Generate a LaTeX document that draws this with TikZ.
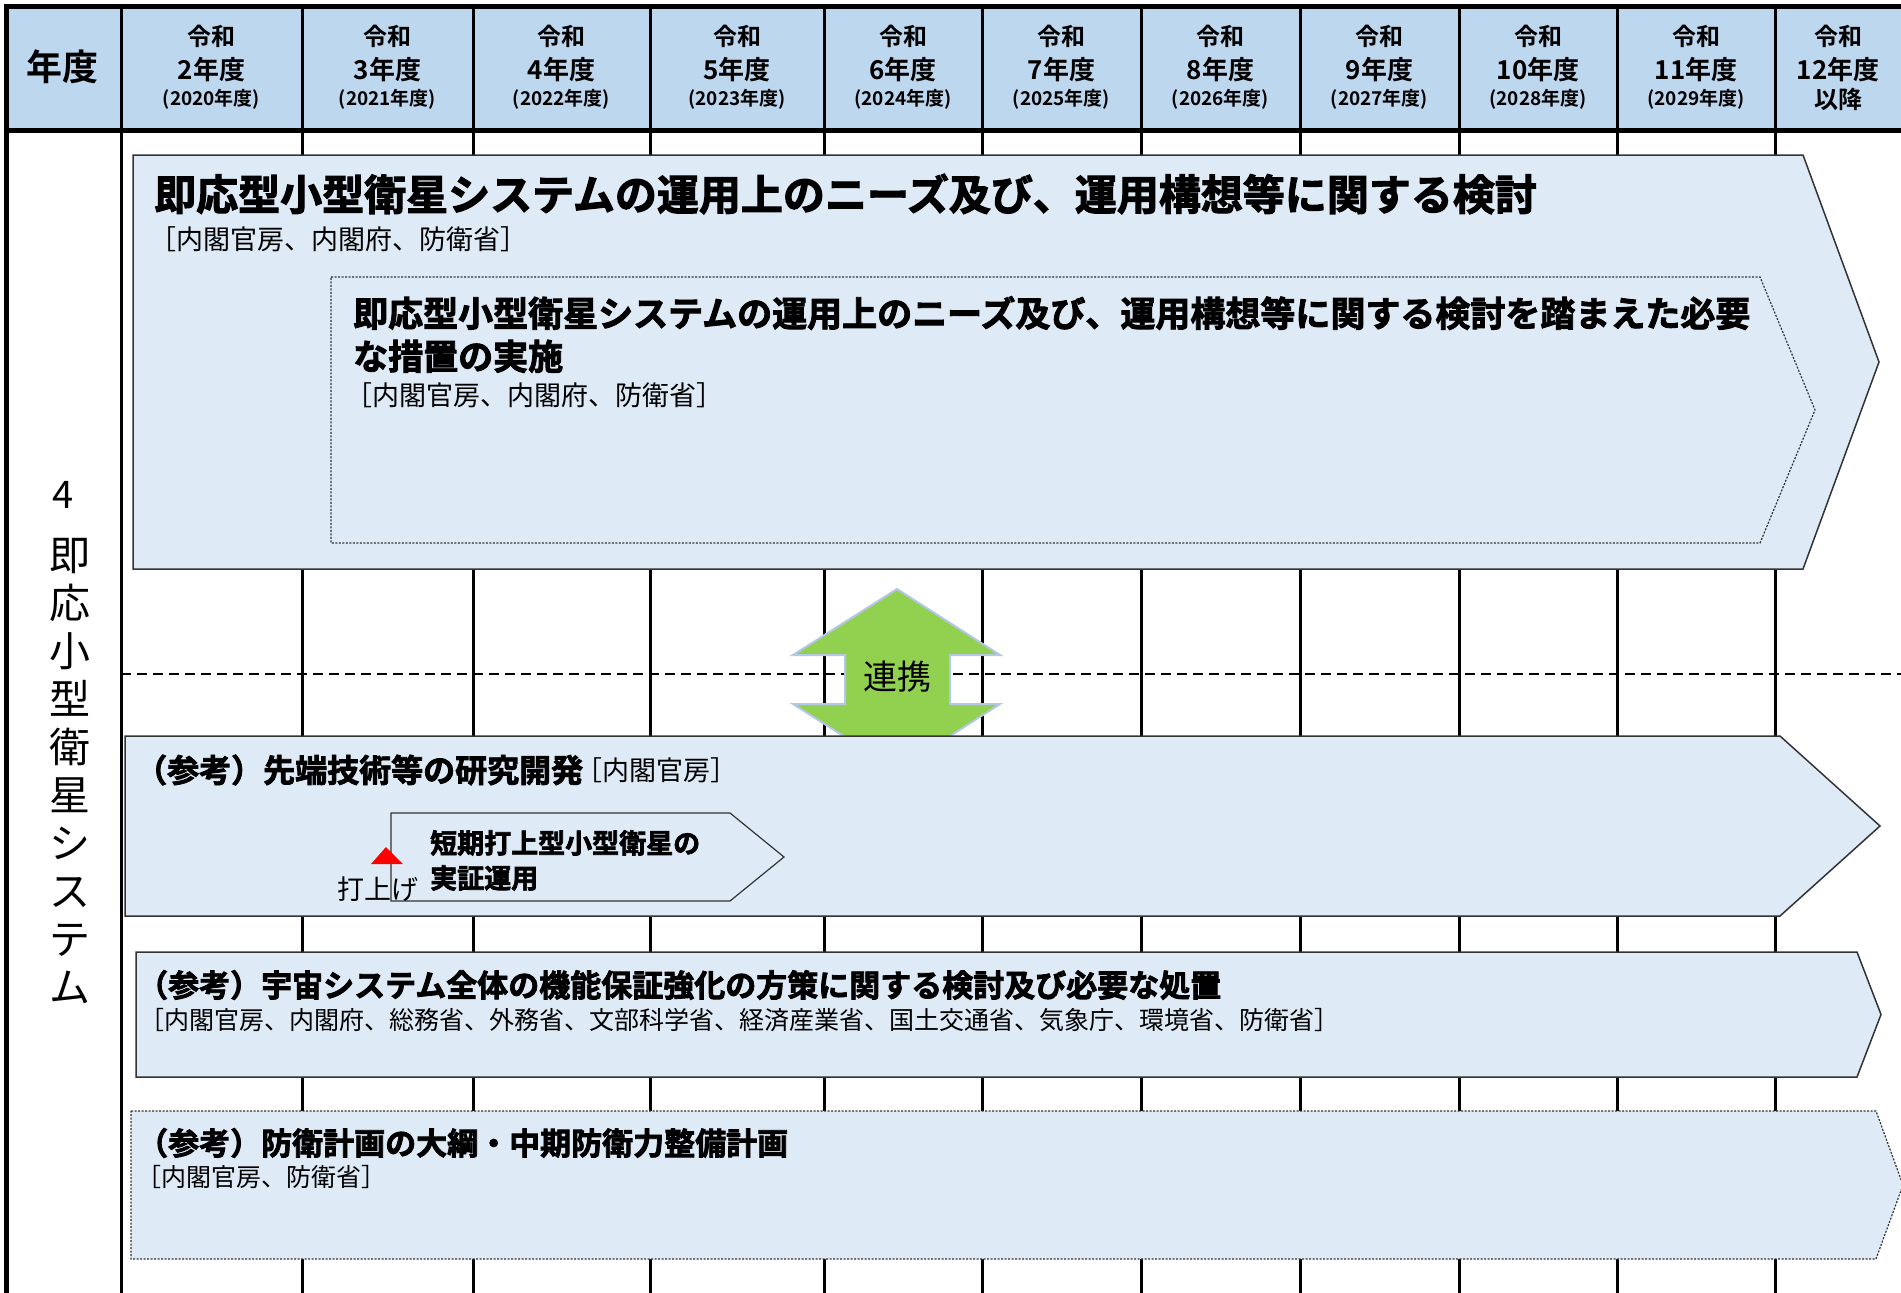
\documentclass[tikz,border=0pt]{standalone}
\usepackage{fontspec}
\setmainfont{Noto Sans CJK JP}
\newfontfamily\hv{Noto Sans CJK JP Bold}[FakeBold=2.5]
\newfontfamily\bd{Noto Sans CJK JP Bold}
\newcommand\fs[2]{\fontsize{#1}{#2}\selectfont}
\definecolor{hdrblue}{HTML}{BDD7EE}
\definecolor{boxblue}{HTML}{DEEAF6}
\definecolor{grn}{HTML}{92D050}
\definecolor{grnedge}{HTML}{B4C7E7}
\tikzset{
  frame/.style={line width=5pt, black},
  colline/.style={line width=3pt, black},
  dashline/.style={line width=2.5pt, black, dash pattern=on 10pt off 6pt},
  barbox/.style={fill=boxblue, draw=black!80, line width=1.5pt, line join=miter},
  dotbox/.style={fill=boxblue, draw=black!80, line width=1.2pt, dash pattern=on 2pt off 1.5pt},
  txt/.style={inner sep=0pt, anchor=west, text=black},
  hd/.style={inner sep=0pt, anchor=center, text=black},
}
\begin{document}
\begin{tikzpicture}[x=1pt,y=-1pt]
\useasboundingbox (0,0) rectangle (1901,1293);
% header background
\fill[hdrblue] (6,6) rectangle (1901,130);
% column lines
\foreach \x in {121,302,473,650,824,982,1141,1300,1459,1617,1775}
  \draw[colline] (\x,6) -- (\x,1293);
% frame
\draw[frame] (6,130) -- (1901,130);
\draw[frame] (3.5,6) -- (1901,6);
\draw[frame] (6,3.5) -- (6,1293);
% header texts
\node[hd] (hyear) at (63,67) {\bd\fs{36}{40}年度};
\foreach \cx/\n/\y [count=\i] in {211.5/2/2020,387.5/3/2021,561.5/4/2022,737/5/2023,903/6/2024,1061.5/7/2025,1220.5/8/2026,1379.5/9/2027,1538/10/2028,1696/11/2029}{
  \node[hd] (h\i a) at (\cx,36) {\bd\fs{24}{28}令和};
  \node[hd] (h\i b) at (\cx,70) {\bd\fs{26}{30}\n 年度};
  \node[hd] (h\i c) at (\cx,99) {\bd\fs{19}{22}(\y 年度)};
}
\node[hd] (h11a) at (1838,36) {\bd\fs{24}{28}令和};
\node[hd] (h11b) at (1838,70) {\bd\fs{26}{30}12年度};
\node[hd] (h11c) at (1838,99) {\bd\fs{24}{28}以降};
% left vertical label
\node[hd] (rownum) at (63,495) {\fs{38}{44}4};
\node[hd, align=center, font=\fs{41}{48}] (rowlabel) at (70,771) {即\\応\\小\\型\\衛\\星\\シ\\ス\\テ\\ム};
% dashed separator
\draw[dashline] (121,674) -- (1901,674);
% green double arrow
\draw[fill=grn, draw=grnedge, line width=2pt, line join=miter]
  (897,589) -- (1000,655) -- (950,655) -- (950,704) -- (1000,704) -- (897,770)
  -- (793,704) -- (845,704) -- (845,655) -- (793,655) -- cycle;
\node[hd] (renkei) at (897,677) {\fs{34}{40}連携};
% box 1
\draw[barbox] (133,155) -- (1803,155) -- (1879,362) -- (1803,569) -- (133,569) -- cycle;
\node[txt] (t1) at (154,194) {\hv\fs{42}{46}即応型小型衛星システムの運用上のニーズ及び、運用構想等に関する検討};
\node[txt] (s1) at (149,239) {\fs{27}{32}［内閣官房、内閣府、防衛省］};
\draw[dotbox] (331,277) -- (1760,277) -- (1815,410) -- (1760,543) -- (331,543) -- cycle;
\node[txt, align=left, font=\hv\fs{35}{43}] (t2) at (353,334.5) {即応型小型衛星システムの運用上のニーズ及び、運用構想等に関する検討を踏まえた必要\\な措置の実施};
\node[txt] (s2) at (345,395) {\fs{27}{32}［内閣官房、内閣府、防衛省］};
% box 2
\draw[barbox] (125,736) -- (1780,736) -- (1880,826) -- (1780,916) -- (125,916) -- cycle;
\node[txt] (t3) at (135,770) {\hv\fs{32}{36}（参考）先端技術等の研究開発};
\node[txt] (s3) at ([xshift=-8pt]t3.east) {\fs{27}{30}［内閣官房］};
\draw[barbox, line width=1.2pt] (391,813) -- (730,813) -- (784,857) -- (730,901) -- (391,901) -- cycle;
\node[txt, align=left, font=\hv\fs{27}{35}] (t3b) at (430,860.5) {短期打上型小型衛星の\\実証運用};
\fill[red] (386,847) -- (403,864) -- (371,864) -- cycle;
\node[hd] (launch) at (378,889) {\fs{27}{32}打上げ};
% box 3
\draw[barbox] (136,952) -- (1857,952) -- (1881,1014.5) -- (1857,1077) -- (136,1077) -- cycle;
\node[txt] (t4) at (137,985) {\hv\fs{31}{36}（参考）宇宙システム全体の機能保証強化の方策に関する検討及び必要な処置};
\node[txt] (s4) at (139,1020) {\fs{25}{28}［内閣官房、内閣府、総務省、外務省、文部科学省、経済産業省、国土交通省、気象庁、環境省、防衛省］};
% box 4
\draw[dotbox] (131,1111) -- (1876,1111) -- (1903,1185) -- (1876,1259) -- (131,1259) -- cycle;
\node[txt] (t5) at (137,1143) {\hv\fs{31}{36}（参考）防衛計画の大綱・中期防衛力整備計画};
\node[txt] (s5) at (136,1177) {\fs{25}{28}［内閣官房、防衛省］};
\end{tikzpicture}
\end{document}
